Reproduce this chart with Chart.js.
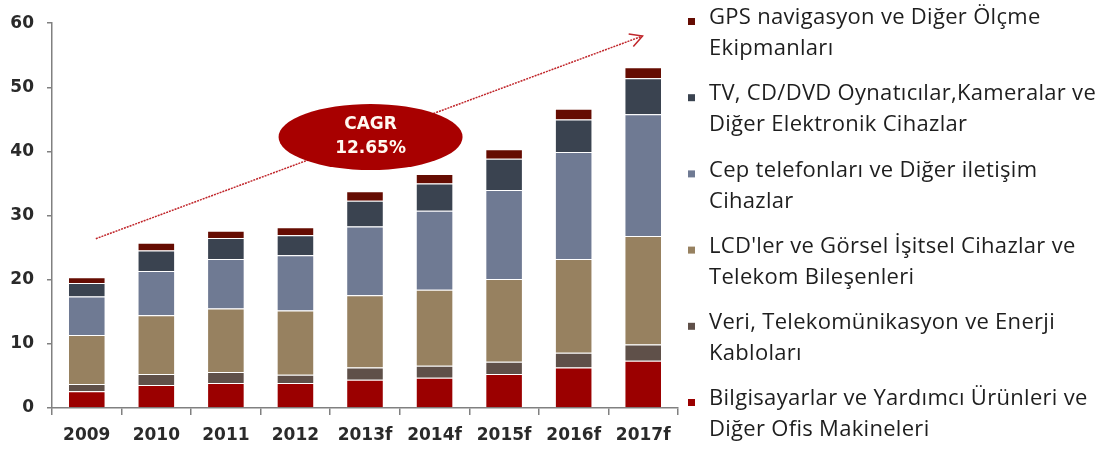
<!DOCTYPE html>
<html lang="tr">
<head>
<meta charset="utf-8">
<script src="https://cdn.jsdelivr.net/npm/chart.js@4.4.1/dist/chart.umd.min.js"></script>
<style>
  html, body { margin: 0; padding: 0; background: #fff; }
  #wrap { width: 1120px; height: 450px; position: relative; }
</style>
</head>
<body>
<div id="wrap"><canvas id="chart"></canvas></div>
<script>
// Years (f = forecast)
const years = ['2009', '2010', '2011', '2012', '2013f', '2014f', '2015f', '2016f', '2017f'];

// Stacked segments, bottom to top
const computers = [2.6, 3.6, 3.9, 3.9, 4.4, 4.7, 5.3, 6.3, 7.35];
const cables = [1.15, 1.7, 1.7, 1.3, 1.9, 1.9, 1.9, 2.3, 2.55];
const lcd = [7.65, 9.15, 9.9, 10.0, 11.3, 11.85, 12.9, 14.65, 16.9];
const phones = [6.0, 6.9, 7.75, 8.6, 10.7, 12.3, 13.9, 16.65, 19.0];
const tvs = [2.1, 3.2, 3.25, 3.15, 4.0, 4.25, 4.85, 5.1, 5.6];
const gps = [0.9, 1.2, 1.15, 1.25, 1.5, 1.5, 1.5, 1.65, 1.75];

const yMin = 0;
const yMax = 60;
const yStep = 10;

const cagrText = ['CAGR', '12.65%'];

const seriesLabels = [
  ['Bilgisayarlar ve Yardımcı Ürünleri ve', 'Diğer Ofis Makineleri'],
  ['Veri, Telekomünikasyon ve Enerji', 'Kabloları'],
  ["LCD'ler ve Görsel İşitsel Cihazlar ve", 'Telekom Bileşenleri'],
  ['Cep telefonları ve Diğer iletişim', 'Cihazlar'],
  ['TV, CD/DVD Oynatıcılar,Kameralar ve', 'Diğer Elektronik Cihazlar'],
  ['GPS navigasyon ve Diğer Ölçme', 'Ekipmanları']
];
const seriesData = [computers, cables, lcd, phones, tvs, gps];
const seriesColors = ['#9b0000', '#5f5049', '#978160', '#6f7a93', '#3a4350', '#650c02'];

const tickFont = { family: 'DejaVu Sans', size: 17, weight: 'bold' };
const axisColor = '#808080';

// CAGR trend arrow + ellipse label
const cagrPlugin = {
  id: 'cagr',
  afterDatasetsDraw(chart) {
    const { ctx, scales: { x, y } } = chart;
    const x0 = x.getPixelForValue(0.13), y0 = y.getPixelForValue(26.4);
    const x1 = x.getPixelForValue(7.99), y1 = y.getPixelForValue(58);
    ctx.save();
    ctx.strokeStyle = '#c0262b';
    ctx.lineWidth = 1.5;
    ctx.setLineDash([2, 1]);
    ctx.beginPath();
    ctx.moveTo(x0, y0);
    ctx.lineTo(x1, y1);
    ctx.stroke();
    // arrow head
    ctx.setLineDash([]);
    const ang = Math.atan2(y1 - y0, x1 - x0);
    const len = 14;
    ctx.beginPath();
    ctx.moveTo(x1 + len * Math.cos(ang + Math.PI - 0.5), y1 + len * Math.sin(ang + Math.PI - 0.5));
    ctx.lineTo(x1, y1);
    ctx.lineTo(x1 + len * Math.cos(ang + Math.PI + 0.5), y1 + len * Math.sin(ang + Math.PI + 0.5));
    ctx.stroke();

    const cx = x.getPixelForValue(4.08), cy = y.getPixelForValue(42.25);
    ctx.fillStyle = '#a80000';
    ctx.beginPath();
    ctx.ellipse(cx, cy, 92, 33, 0, 0, Math.PI * 2);
    ctx.fill();
    ctx.fillStyle = '#fff8f0';
    ctx.font = 'bold 17px "DejaVu Sans"';
    ctx.textAlign = 'center';
    ctx.textBaseline = 'middle';
    ctx.fillText(cagrText[0], cx, cy - 12);
    ctx.fillText(cagrText[1], cx, cy + 12);
    ctx.restore();
  }
};

// Two-line legend on the right, top series first
const sideLegend = {
  id: 'sideLegend',
  afterDraw(chart) {
    const { ctx } = chart;
    const sets = chart.data.datasets.slice().reverse();
    ctx.save();
    ctx.font = '22px "Open Sans"';
    ctx.letterSpacing = '0.3px';
    ctx.textBaseline = 'middle';
    ctx.textAlign = 'left';
    sets.forEach((ds, i) => {
      const top = 18 + i * 76.2;
      ctx.fillStyle = ds.backgroundColor;
      ctx.fillRect(688, top, 7, 7);
      ctx.fillStyle = '#1e1e1e';
      ds.label.forEach((line, j) => {
        ctx.fillText(line, 709, top + j * 31);
      });
    });
    ctx.restore();
  }
};

new Chart(document.getElementById('chart'), {
  type: 'bar',
  data: {
    labels: years,
    datasets: seriesData.map((d, i) => ({
      label: seriesLabels[i],
      data: d,
      backgroundColor: seriesColors[i],
      borderColor: '#ffffff',
      borderWidth: 1,
      borderSkipped: 'start',
      categoryPercentage: 1,
      barPercentage: 0.54
    }))
  },
  options: {
    responsive: true,
    maintainAspectRatio: false,
    animation: false,
    layout: { padding: { top: 15, right: 442, left: 0, bottom: 0 } },
    plugins: {
      legend: { display: false },
      tooltip: { enabled: false }
    },
    scales: {
      x: {
        stacked: true,
        grid: { drawOnChartArea: false, drawTicks: true, tickLength: 7, color: axisColor, lineWidth: 1.5 },
        border: { color: axisColor, width: 1.5 },
        ticks: { color: '#2a2a2a', font: tickFont, padding: 10 },
        afterFit(scale) { scale.height = 42; }
      },
      y: {
        stacked: true,
        min: yMin,
        max: yMax,
        grid: { drawOnChartArea: false, drawTicks: true, tickLength: 5, color: axisColor, lineWidth: 1.5 },
        border: { color: axisColor, width: 1.5 },
        ticks: { stepSize: yStep, color: '#2a2a2a', font: tickFont, padding: 13 },
        afterFit(scale) { scale.width = 52; }
      }
    }
  },
  plugins: [cagrPlugin, sideLegend]
});
</script>
</body>
</html>
